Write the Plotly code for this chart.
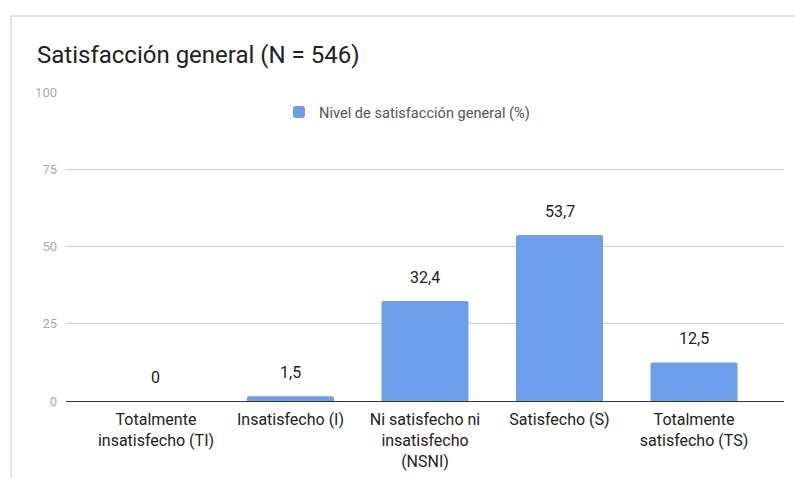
import plotly.graph_objects as go

categories = [
    "Totalmente<br>insatisfecho (TI)",
    "Insatisfecho (I)",
    "Ni satisfecho ni<br>insatisfecho<br>(NSNI)",
    "Satisfecho (S)",
    "Totalmente<br>satisfecho (TS)",
]
values = [0, 1.5, 32.4, 53.7, 12.5]
value_labels = ["0", "1,5", "32,4", "53,7", "12,5"]
y_ticks = [0, 25, 50, 75, 100]

BAR_COLOR = "#6d9eeb"
FONT = "Roboto"

fig = go.Figure()
fig.add_trace(go.Bar(
    x=list(range(len(categories))),
    y=values,
    name="Nivel de satisfacción general (%)",
    marker=dict(color=BAR_COLOR, line=dict(width=0), cornerradius=2),
    width=0.647,
    hoverinfo="skip",
))

# value labels above each bar
for i, (v, lab) in enumerate(zip(values, value_labels)):
    fig.add_annotation(
        x=i, y=v, text=lab, showarrow=False,
        xanchor="center", yanchor="bottom", yshift=12,
        font=dict(family=FONT, size=16, color="#222222"),
    )

# card outline (left and top edges)
fig.add_shape(
    type="path", xref="paper", yref="paper",
    path="M -0.0766,-0.30 L -0.0766,1.246 L 1.03,1.246",
    line=dict(color="#dadada", width=1.5),
)

fig.update_layout(
    width=795, height=478,
    margin=dict(l=66, r=11, t=92, b=77, autoexpand=False),
    paper_bgcolor="white", plot_bgcolor="white",
    font=dict(family=FONT),
    title=dict(
        text="Satisfacción general (N = 546)",
        x=37 / 795, xref="container", xanchor="left",
        y=1 - 55 / 478, yref="container", yanchor="middle",
        font=dict(family=FONT, size=24, color="#222222"),
    ),
    showlegend=True,
    legend=dict(
        x=(292 - 66 - 13) / 718, xanchor="left",
        y=(401 - 112) / 309, yanchor="middle",
        orientation="h", bgcolor="rgba(0,0,0,0)",
        font=dict(family=FONT, size=14.6, color="#555555"),
        itemsizing="constant",
    ),
)

fig.update_xaxes(
    tickmode="array",
    tickvals=list(range(len(categories))),
    ticktext=categories,
    range=[-0.669, 4.669],
    showgrid=False, zeroline=False, ticks="",
    showline=False,
    tickfont=dict(family=FONT, size=16, color="#222222"),
    ticklabelstandoff=7, automargin=False,
    fixedrange=True,
)
fig.update_yaxes(
    range=[0, 100],
    tickmode="array", tickvals=y_ticks,
    ticktext=[str(t) for t in y_ticks],
    showgrid=True, gridcolor="#cccccc", gridwidth=1,
    zeroline=True, zerolinecolor="#333333", zerolinewidth=1,
    tickfont=dict(family=FONT, size=13, color="#aaaaaa"),
    ticks="", ticklabelstandoff=8, automargin=False,
    fixedrange=True,
)

fig.write_html("out.html", config={"displayModeBar": False})
